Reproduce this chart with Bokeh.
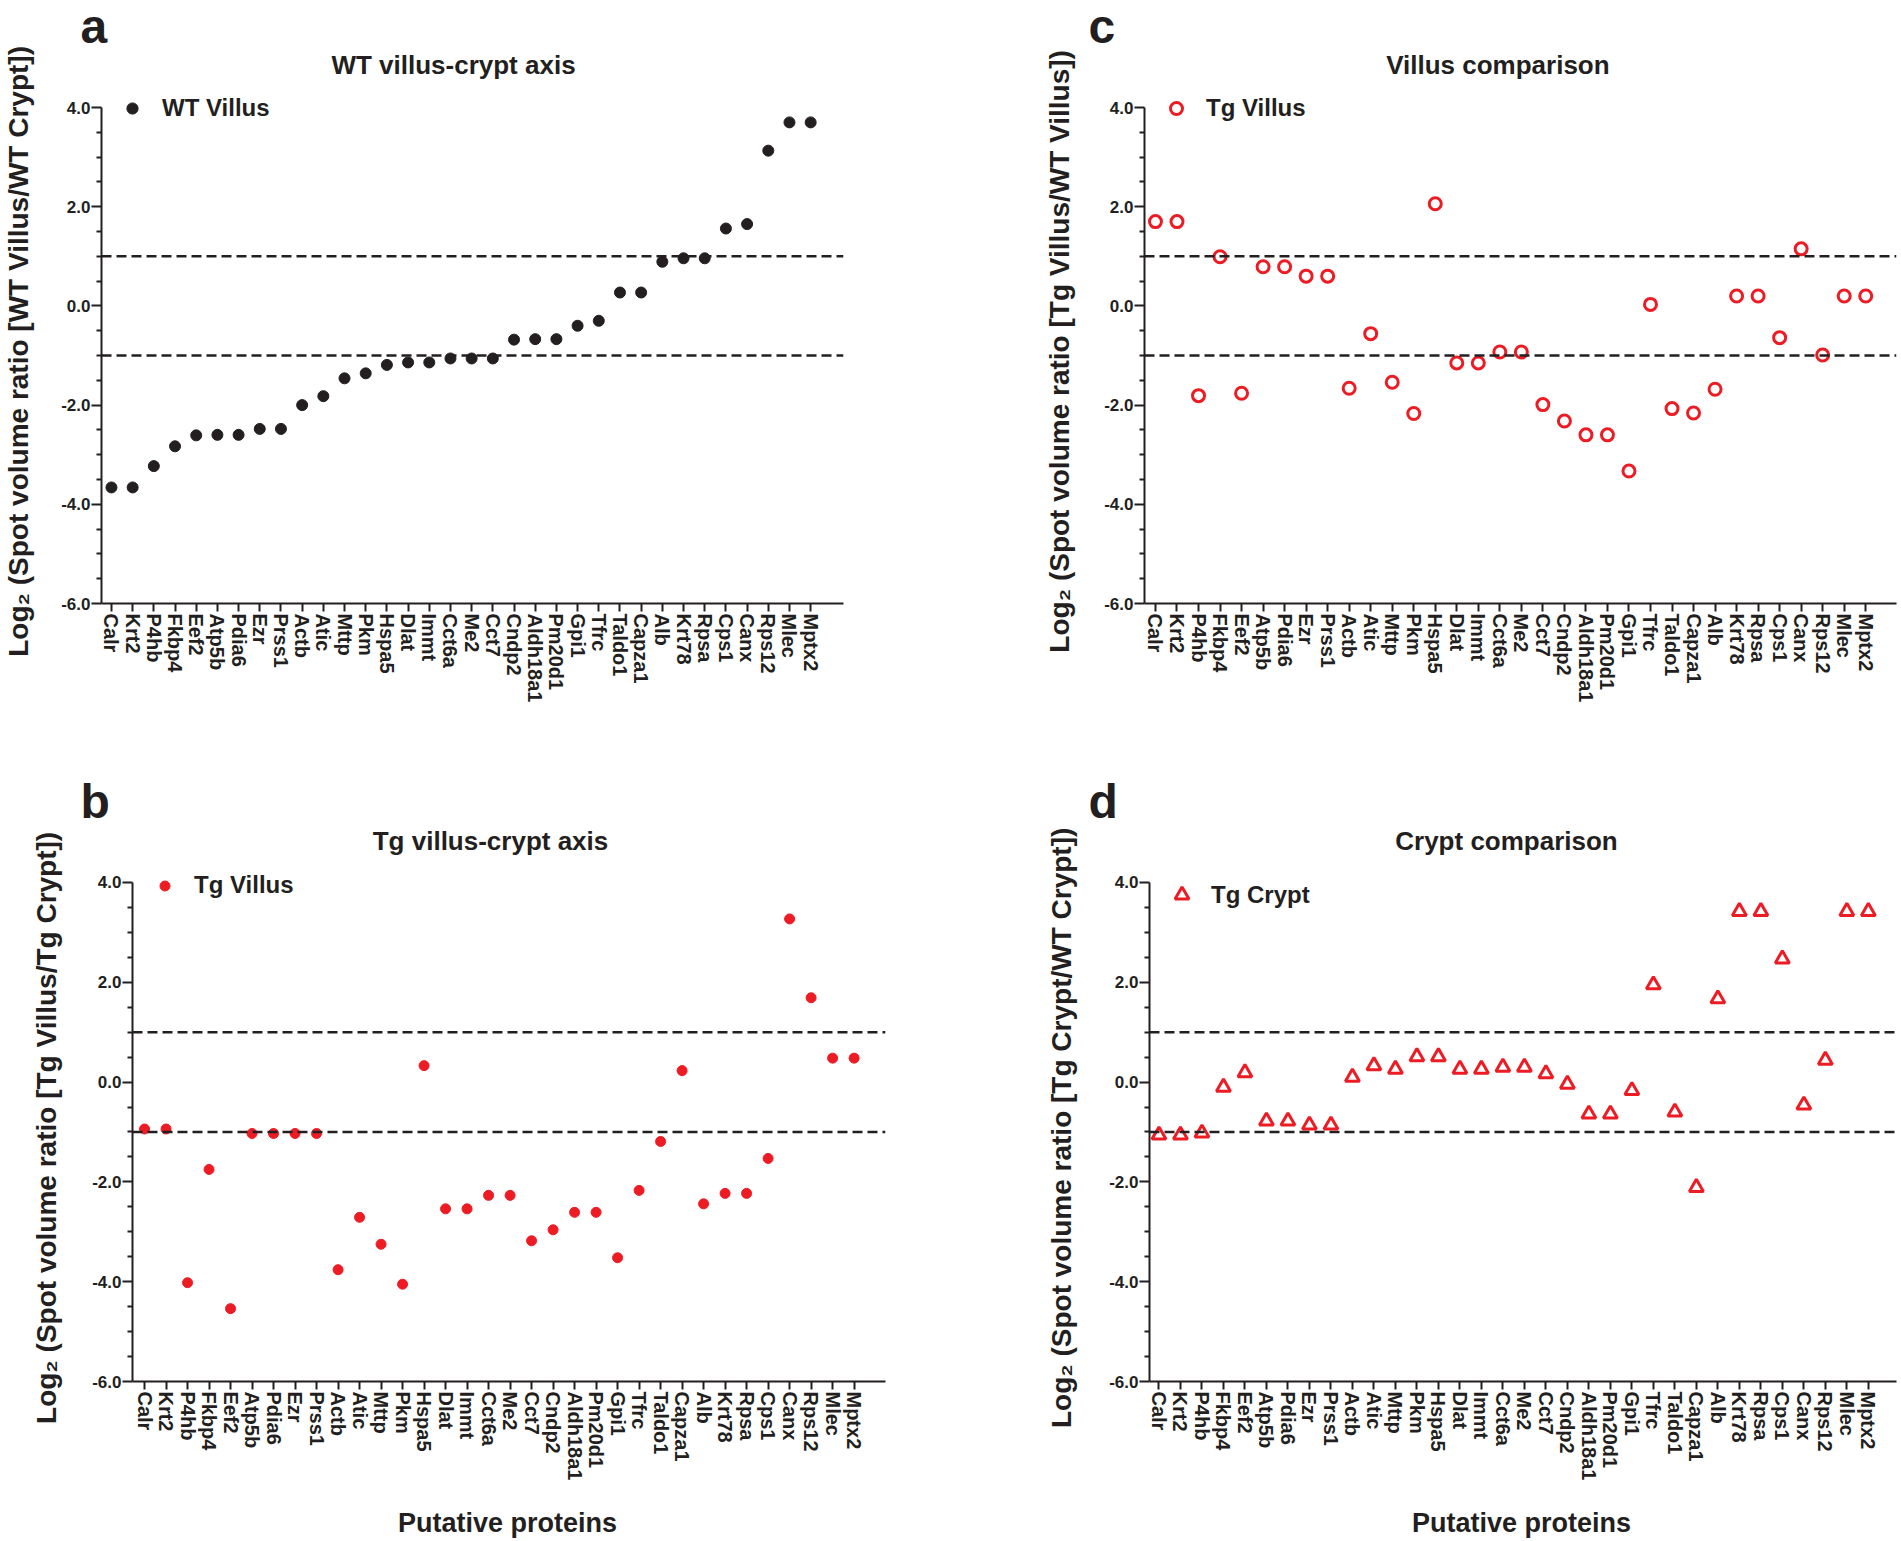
import numpy as np
from bokeh.plotting import figure
from bokeh.models import (Span, Label, Legend, LegendItem, FixedTicker, PrintfTickFormatter,
                          Range1d, GridBox)
from bokeh.embed import file_html
from bokeh.resources import INLINE

# ---------------- data ----------------
proteins = ["Calr", "Krt2", "P4hb", "Fkbp4", "Eef2", "Atp5b", "Pdia6", "Ezr", "Prss1", "Actb",
            "Atic", "Mttp", "Pkm", "Hspa5", "Dlat", "Immt", "Cct6a", "Me2", "Cct7", "Cndp2",
            "Aldh18a1", "Pm20d1", "Gpi1", "Tfrc", "Taldo1", "Capza1", "Alb", "Krt78", "Rpsa",
            "Cps1", "Canx", "Rps12", "Mlec", "Mptx2"]

wt_villus_vs_wt_crypt = [-3.66, -3.66, -3.23, -2.83, -2.61, -2.60, -2.60, -2.48, -2.48, -2.00,
                         -1.82, -1.46, -1.36, -1.19, -1.14, -1.14, -1.06, -1.06, -1.06, -0.68,
                         -0.67, -0.67, -0.40, -0.30, 0.27, 0.27, 0.89, 0.96, 0.96,
                         1.56, 1.65, 3.13, 3.70, 3.70]

tg_villus_vs_tg_crypt = [-0.94, -0.94, -4.02, -1.75, -4.54, -1.03, -1.03, -1.03, -1.03, -3.76,
                         -2.71, -3.25, -4.05, 0.33, -2.54, -2.54, -2.27, -2.27, -3.18, -2.96,
                         -2.61, -2.61, -3.52, -2.17, -1.19, 0.23, -2.44, -2.23, -2.23,
                         -1.53, 3.27, 1.69, 0.48, 0.48]

tg_villus_vs_wt_villus = [1.70, 1.70, -1.81, 0.99, -1.76, 0.79, 0.79, 0.60, 0.60, -1.66,
                          -0.56, -1.54, -2.17, 2.06, -1.15, -1.15, -0.93, -0.93, -1.99, -2.32,
                          -2.60, -2.60, -3.33, 0.03, -2.07, -2.16, -1.68, 0.20, 0.20,
                          -0.64, 1.15, -0.99, 0.20, 0.20]

tg_crypt_vs_wt_crypt = [-1.06, -1.06, -1.02, -0.10, 0.19, -0.78, -0.78, -0.86, -0.86, 0.10,
                        0.33, 0.26, 0.51, 0.51, 0.26, 0.26, 0.30, 0.30, 0.17, -0.04,
                        -0.64, -0.64, -0.17, 1.95, -0.60, -2.11, 1.67, 3.42, 3.42,
                        2.47, -0.46, 0.44, 3.42, 3.42]

thresholds = [1.0, -1.0]
y_major = [-6.0, -4.0, -2.0, 0.0, 2.0, 4.0]
panel_titles = ["WT villus-crypt axis", "Tg villus-crypt axis", "Villus  comparison",
                "Crypt comparison"]
panel_letters = ["a", "b", "c", "d"]
x_title = "Putative proteins"

BLACK = "#231f20"
RED = "#ed1c24"
FONT = "Liberation Sans"


def make_panel(values, width, height, bl, br, bt, bb, xr, ytop, ylabel, ylab_standoff,
               marker, msize, filled, color, legend_label, glyph, leg_loc, leg_standoff):
    p = figure(width=width, height=height, output_backend="svg", toolbar_location=None,
               min_border_left=bl, min_border_right=br, min_border_top=bt, min_border_bottom=bb,
               x_range=Range1d(*xr), y_range=Range1d(-6.0, ytop), frame_align=False)
    p.outline_line_color = None
    p.grid.visible = False
    p.background_fill_alpha = 0
    p.border_fill_alpha = 0

    idx = list(range(len(proteins)))
    if filled:
        r = p.scatter(idx, values, marker=marker, size=msize, fill_color=color, line_color=color)
    else:
        r = p.scatter(idx, values, marker=marker, size=msize, fill_color=None, line_color=color,
                      line_width=3)

    for t in thresholds:
        p.add_layout(Span(location=t, dimension="width", line_color=BLACK, line_width=2.5,
                          line_dash="10 5"))

    # y axis
    ya = p.yaxis[0]
    minor = [float(v) for v in np.arange(-6.0, 4.01, 0.5) if v not in y_major]
    ya.ticker = FixedTicker(ticks=y_major, minor_ticks=minor)
    ya.bounds = (y_major[0], y_major[-1])
    ya.formatter = PrintfTickFormatter(format="%.1f")
    ya.axis_line_width = 2
    ya.axis_line_color = BLACK
    ya.major_tick_line_width = 2
    ya.minor_tick_line_width = 2
    ya.major_tick_line_color = BLACK
    ya.minor_tick_line_color = BLACK
    ya.major_tick_out = 10
    ya.major_tick_in = 0
    ya.minor_tick_out = 5
    ya.minor_tick_in = 0
    ya.major_label_standoff = 1
    ya.major_label_text_font = FONT
    ya.major_label_text_font_style = "bold"
    ya.major_label_text_font_size = "17px"
    ya.major_label_text_color = BLACK
    ya.axis_label = ylabel
    ya.axis_label_text_font = FONT
    ya.axis_label_text_font_style = "bold"
    ya.axis_label_text_font_size = "28px"
    ya.axis_label_text_color = BLACK
    ya.axis_label_standoff = ylab_standoff

    # x axis
    xa = p.xaxis[0]
    xa.ticker = FixedTicker(ticks=idx, minor_ticks=[])
    xa.major_label_overrides = {i: name for i, name in enumerate(proteins)}
    xa.major_label_orientation = "vertical"
    xa.axis_line_width = 2
    xa.axis_line_color = BLACK
    xa.major_tick_line_width = 2
    xa.major_tick_line_color = BLACK
    xa.major_tick_out = 8
    xa.major_tick_in = 0
    xa.major_label_standoff = 2
    xa.major_label_text_font = FONT
    xa.major_label_text_font_style = "bold"
    xa.major_label_text_font_size = "20px"
    xa.major_label_text_color = BLACK

    # legend
    leg = Legend(items=[LegendItem(label=legend_label, renderers=[r])], location=leg_loc,
                 glyph_width=glyph, glyph_height=glyph, label_standoff=leg_standoff,
                 padding=0, margin=0, spacing=0, border_line_color=None,
                 background_fill_alpha=0, label_text_font=FONT, label_text_font_style="bold",
                 label_text_font_size="24px", label_text_color=BLACK, label_height=glyph)
    p.add_layout(leg)
    return p


# row 1: frame 91..603 (axis drawn 107..603), row 2: frame 866..1381 (axis 882..1381)
pa = make_panel(wt_villus_vs_wt_crypt, 1020, 730, 97, 177, 91, 127, (-0.47, 34.55), 4.3226,
                "Log\u2082  (Spot volume ratio [WT Villus/WT Crypt])", 24,
                "circle", 11, True, BLACK, "WT Villus", 28, (17, 481), 16)

pc = make_panel(tg_villus_vs_wt_villus, 880, 730, 124, 4, 91, 127, (-0.51, 34.43), 4.3226,
                "Log\u2082  (Spot volume ratio [Tg Villus/WT Villus])", 26,
                "circle", 12, False, RED, "Tg Villus", 30, (17, 480), 15)

pb = make_panel(tg_villus_vs_tg_crypt, 1020, 810, 132, 135, 136, 159, (-0.56, 34.46), 4.3206,
                "Log\u2082  (Spot volume ratio [Tg Villus/Tg Crypt])", 27,
                "circle", 10, True, RED, "Tg Villus", 25, (20, 482), 17)

pd_ = make_panel(tg_crypt_vs_wt_crypt, 880, 810, 129, 4, 136, 159, (-0.44, 34.31), 4.3206,
                 "Log\u2082  (Spot volume ratio [Tg Crypt/WT Crypt])", 29,
                 "triangle", 14, False, RED, "Tg Crypt", 35, (15, 469), 12)

# transparent overlay for panel titles, letters and the shared x title (page pixel coords)
ov = figure(width=1900, height=1540, output_backend="svg", toolbar_location=None,
            x_range=Range1d(0, 1900), y_range=Range1d(1540, 0), min_border=0,
            x_axis_type=None, y_axis_type=None, frame_align=False)
ov.outline_line_color = None
ov.grid.visible = False
ov.background_fill_alpha = 0
ov.border_fill_alpha = 0

# anchor y values (Bokeh's text anchor sits about 0.35 em below the glyph baseline)
title_pos = [(453, 64), (490, 840), (1501, 64), (1506, 840)]
letter_pos = [(80, 26), (80, 801), (1088, 26), (1088, 801)]
for (tx, ty), t in zip(title_pos, panel_titles):
    ov.add_layout(Label(x=tx, y=ty, text=t, text_align="center", text_baseline="alphabetic",
                        text_font=FONT, text_font_style="bold", text_font_size="26px",
                        text_color=BLACK))
for (lx, ly), t in zip(letter_pos, panel_letters):
    ov.add_layout(Label(x=lx, y=ly, text=t, text_align="left", text_baseline="alphabetic",
                        text_font=FONT, text_font_style="bold", text_font_size="48px",
                        text_color=BLACK))
for cx in (507, 1521):
    ov.add_layout(Label(x=cx, y=1522, text=x_title, text_align="center",
                        text_baseline="alphabetic", text_font=FONT, text_font_style="bold",
                        text_font_size="27px", text_color=BLACK))

grid = GridBox(children=[(pa, 0, 0), (pc, 0, 1), (pb, 1, 0), (pd_, 1, 1), (ov, 0, 0, 2, 2)],
               spacing=0)

open("out.html", "w").write(file_html(grid, INLINE))
